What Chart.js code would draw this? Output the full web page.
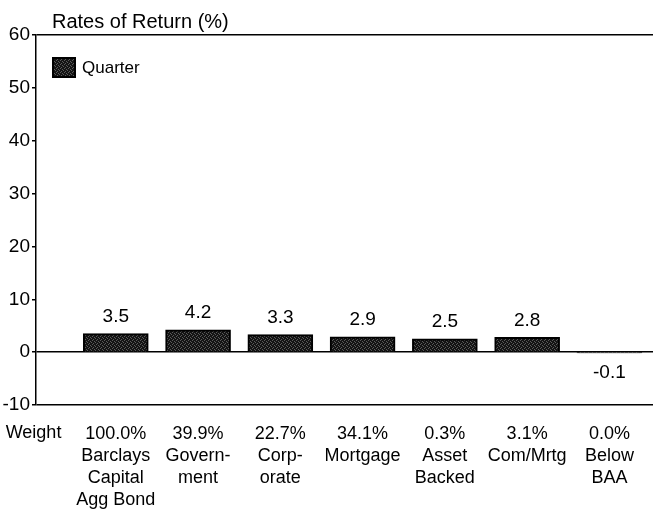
<!DOCTYPE html>
<html>
<head>
<meta charset="utf-8">
<script src="https://cdn.jsdelivr.net/npm/chart.js@4/dist/chart.umd.min.js"></script>
<style>
  html, body { margin: 0; padding: 0; background: #fff; }
  #wrap { width: 653px; height: 515px; }
</style>
</head>
<body>
<div id="wrap"><canvas id="canevas" width="653" height="515"></canvas></div>
<script>
// values
var categories = [
  ["Barclays", "Capital", "Agg Bond"],
  ["Govern-", "ment"],
  ["Corp-", "orate"],
  ["Mortgage"],
  ["Asset", "Backed"],
  ["Com/Mrtg"],
  ["Below", "BAA"]
];
var weights = ["100.0%", "39.9%", "22.7%", "34.1%", "0.3%", "3.1%", "0.0%"];
var quarter = [3.5, 4.2, 3.3, 2.9, 2.5, 2.8, -0.1];
var yTicks = [-10, 0, 10, 20, 30, 40, 50, 60];

var FONT = "'Liberation Sans', Arial, sans-serif";

// speckled dark fill like the printed bars
function makeFill() {
  var p = document.createElement('canvas');
  p.width = 4; p.height = 4;
  var g = p.getContext('2d');
  g.fillStyle = '#141414';
  g.fillRect(0, 0, 4, 4);
  g.fillStyle = '#5a5a5a';
  g.fillRect(0, 0, 1, 1);
  g.fillRect(2, 1, 1, 1);
  g.fillRect(1, 3, 1, 1);
  g.fillRect(3, 2, 1, 1);
  return g.createPattern(p, 'repeat');
}

var extras = {
  id: 'extras',
  afterDatasetsDraw: function (chart) {
    var ctx = chart.ctx;
    var meta = chart.getDatasetMeta(0);
    ctx.save();
    ctx.fillStyle = '#000';
    ctx.font = '19px ' + FONT;
    ctx.textAlign = 'center';
    ctx.textBaseline = 'middle';
    meta.data.forEach(function (bar, i) {
      var v = quarter[i];
      var y = v >= 0 ? bar.y - 17 : bar.y + 20;
      ctx.fillText(v.toFixed(1), bar.x, y);
    });
    ctx.restore();
  },
  afterDraw: function (chart) {
    var ctx = chart.ctx;
    var area = chart.chartArea;
    var ds = chart.data.datasets[0];
    ctx.save();
    ctx.fillStyle = '#000';
    ctx.textBaseline = 'middle';
    ctx.font = '20px ' + FONT;
    ctx.textAlign = 'left';
    ctx.fillText('Rates of Return (%)', area.left + 16, 22);

    // legend inside the plot, top left
    ctx.fillStyle = ds.backgroundColor;
    ctx.fillRect(area.left + 17, area.top + 23, 22, 19);
    ctx.strokeStyle = ds.borderColor;
    ctx.lineWidth = 2;
    ctx.strokeRect(area.left + 17, area.top + 23, 22, 19);
    ctx.fillStyle = '#000';
    ctx.font = '17px ' + FONT;
    ctx.fillText(ds.label, area.left + 46, area.top + 33);

    ctx.font = '18px ' + FONT;
    ctx.textAlign = 'center';
    ctx.fillText('Weight', chart.scales.x.getPixelForValue(-1), area.bottom + 28);
    ctx.restore();
  }
};

var c = document.getElementById("canevas");
var ctx = c.getContext('2d');
var fill = makeFill();

new Chart(ctx, {
  type: 'bar',
  data: {
    datasets: [{
      label: 'Quarter',
      data: quarter.map(function (v, i) { return { x: i, y: v }; }),
      backgroundColor: fill,
      borderColor: '#000',
      borderWidth: 2,
      borderSkipped: 'start',
      barThickness: 65
    }]
  },
  options: {
    responsive: false,
    animation: false,
    layout: { padding: { top: 35, right: 0, bottom: 5, left: 0 } },
    plugins: {
      legend: { display: false },
      tooltip: { enabled: false }
    },
    scales: {
      x: {
        type: 'linear',
        offset: false,
        min: -0.97,
        max: 6.53,
        grid: { display: false },
        border: { display: false },
        afterBuildTicks: function (s) {
          s.ticks = categories.map(function (c, i) { return { value: i }; });
        },
        afterFit: function (s) { s.height = 105; },
        ticks: {
          color: '#000',
          font: { family: FONT, size: 18, lineHeight: 1.22 },
          padding: 10,
          maxRotation: 0,
          autoSkip: false,
          callback: function (v) { return [weights[v]].concat(categories[v]); }
        }
      },
      y: {
        min: -10,
        max: 60,
        afterBuildTicks: function (s) {
          s.ticks = yTicks.map(function (v) { return { value: v }; });
        },
        afterFit: function (s) { s.width = 36; },
        border: { display: true, color: '#000', width: 1.5 },
        grid: {
          color: function (g) {
            var v = g.tick ? g.tick.value : null;
            return (v === 60 || v === 0 || v === -10) ? '#000' : 'rgba(0,0,0,0)';
          },
          lineWidth: 1.5,
          tickColor: '#000',
          tickLength: 4
        },
        ticks: {
          color: '#000',
          font: { family: FONT, size: 19 },
          padding: 2
        }
      }
    }
  },
  plugins: [extras]
});
</script>
</body>
</html>
